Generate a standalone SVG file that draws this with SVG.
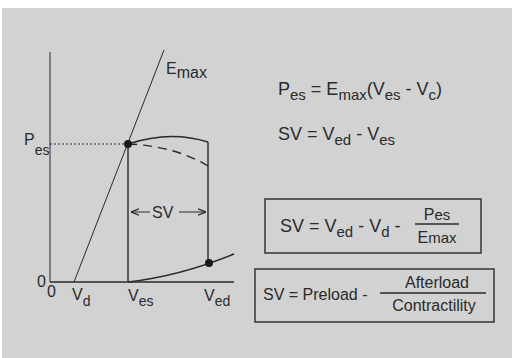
<svg xmlns="http://www.w3.org/2000/svg" width="512" height="358" viewBox="0 0 512 358">
<style>
.t{font-family:"Liberation Sans","DejaVu Sans",sans-serif;fill:#2a2a2a;font-size:16px}
.b{font-size:18px}
.s{font-size:15px}
.ln{stroke:#2a2a2a;fill:none;stroke-width:1.4}
.thin{stroke:#2a2a2a;fill:none;stroke-width:1}
</style>
<defs>
<marker id="ah" viewBox="0 0 10 10" refX="10" refY="5" markerWidth="8" markerHeight="8" orient="auto-start-reverse" markerUnits="userSpaceOnUse">
<path d="M0,1 L10,5 L0,9" fill="none" stroke="#2a2a2a" stroke-width="1.5"/>
</marker>
</defs>
<rect x="0" y="0" width="512" height="358" fill="#ffffff"/>
<rect x="2" y="8" width="510" height="350" fill="#d2d2d2"/>

<g id="axes">
<line class="thin" x1="50" y1="52" x2="50" y2="282"/>
<line class="ln" x1="50" y1="282" x2="234" y2="282"/>
<text class="t" x="37" y="287" font-size="14">0</text>
<text class="t" x="47" y="297" font-size="14">0</text>
</g>

<g id="connectors">
<line class="thin" x1="74" y1="282" x2="164" y2="50"/>
<line class="thin" x1="50" y1="144" x2="124" y2="144" stroke-dasharray="2,2"/>
<path class="ln" d="M128,144 Q170,130 208,142"/>
<path class="ln" d="M128,144 Q175,146 208,166" stroke-dasharray="9,6"/>
<line class="ln" x1="208" y1="142" x2="208" y2="263"/>
<line class="ln" x1="128" y1="144" x2="128" y2="282"/>
<path class="ln" d="M128,282 Q180,276 234,254"/>
<line class="thin" x1="131" y1="212" x2="150" y2="212" marker-start="url(#ah)"/>
<line class="thin" x1="179" y1="212" x2="206" y2="212" marker-end="url(#ah)"/>
</g>

<g id="points">
<circle cx="128" cy="144" r="4" fill="#1a1a1a"/>
<circle cx="209" cy="263" r="4" fill="#1a1a1a"/>
</g>

<g id="graph-labels">
<text class="t" x="166" y="74" font-size="17">E<tspan font-size="16" dy="4">max</tspan></text>
<text class="t" x="24" y="145" font-size="13">P<tspan font-size="14" dy="10">es</tspan></text>
<text class="t" x="152" y="218">SV</text>
<text class="t" x="72" y="300">V<tspan font-size="14" dy="6">d</tspan></text>
<text class="t" x="128" y="301">V<tspan font-size="14" dy="5">es</tspan></text>
<text class="t" x="204" y="301">V<tspan font-size="14" dy="5">ed</tspan></text>
</g>

<g id="eq1">
<text class="t b" x="278" y="95">P<tspan class="s" dy="5">es</tspan><tspan dy="-5"> = E</tspan><tspan class="s" dy="5">max</tspan><tspan dy="-5">(V</tspan><tspan class="s" dy="5">es</tspan><tspan dy="-5"> - V</tspan><tspan class="s" dy="5">c</tspan><tspan dy="-5">)</tspan></text>
</g>

<g id="eq2">
<text class="t b" x="278" y="140">SV = V<tspan class="s" dy="5">ed</tspan><tspan dy="-5"> - V</tspan><tspan class="s" dy="5">es</tspan></text>
</g>

<g id="box1">
<rect class="ln" x="265" y="199" width="216" height="54"/>
<text class="t b" x="280" y="232">SV = V<tspan class="s" dy="5">ed</tspan><tspan dy="-5"> - V</tspan><tspan class="s" dy="5">d</tspan><tspan dy="-5"> -</tspan></text>
<text class="t" x="437" y="220" text-anchor="middle" font-size="16">P<tspan font-size="15">es</tspan></text>
<line class="ln" x1="415" y1="224" x2="459" y2="224"/>
<text class="t" x="437" y="243" text-anchor="middle" font-size="16">E<tspan font-size="15">max</tspan></text>
</g>

<g id="box2">
<rect class="ln" x="255" y="269" width="239" height="53"/>
<text class="t" x="263" y="300" font-size="17">SV = Preload -</text>
<text class="t" x="437" y="288" text-anchor="middle" font-size="17">Afterload</text>
<line class="ln" x1="380" y1="293" x2="486" y2="293"/>
<text class="t" x="434" y="311" text-anchor="middle" font-size="17">Contractility</text>
</g>
</svg>
